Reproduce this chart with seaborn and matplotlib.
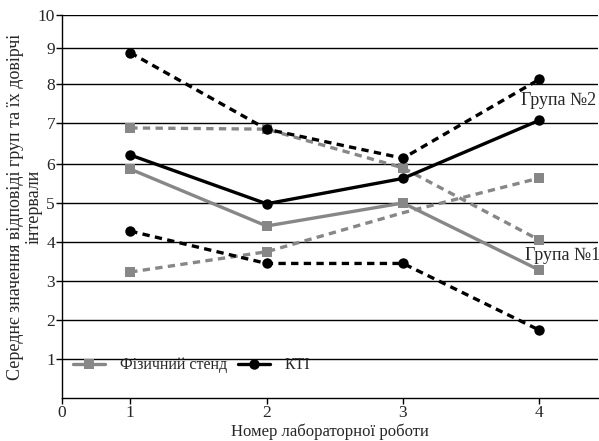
import numpy as np
import pandas as pd
import matplotlib
matplotlib.use("Agg")
import matplotlib.pyplot as plt
import seaborn as sns

labs = [1, 2, 3, 4]
phys_mean = [5.87, 4.41, 5.0, 3.28]
phys_upper = [6.88, 6.85, 5.9, 4.05]
phys_lower = [3.23, 3.75, 4.75, 5.64]
kti_mean = [6.22, 4.98, 5.63, 7.07]
kti_upper = [8.87, 6.85, 6.14, 8.13]
kti_lower = [4.28, 3.45, 3.45, 1.74]
y_ticks = [0, 1, 2, 3, 4, 5, 6, 7, 8, 9, 10]
x_tick_labels = ["0", "1", "2", "3", "4"]

sns.set_theme(style="white")
plt.rcParams["font.family"] = ["Liberation Serif", "DejaVu Serif"]

fig = plt.figure(figsize=(5.99, 4.41), dpi=100)
ax = fig.add_axes([62 / 599, 1 - 398 / 441, (598 - 62) / 599, (398 - 15) / 441])

# the reference y axis is slightly compressed near the top
pix = np.array([398, 359, 320, 281, 242, 203, 164, 123, 84, 48, 15], dtype=float)
pos = 398 - pix
vals = np.array(y_ticks, dtype=float)
def fwd(y):
    return np.interp(y, vals, pos)
def inv(p):
    return np.interp(p, pos, vals)
ax.set_yscale("function", functions=(fwd, inv))

GRAY = "#878787"
BLACK = "#000000"
lw = 2.4
ms = 7.5

sns.lineplot(x=labs, y=phys_mean, ax=ax, color=GRAY, lw=lw, marker="s",
             markersize=ms, markeredgewidth=0, label="Фізичний стенд", zorder=3)
sns.lineplot(x=labs, y=kti_mean, ax=ax, color=BLACK, lw=lw, marker="o",
             markersize=ms, markeredgewidth=0, label="КТІ", zorder=4)
for ys, mk, c, me in [(phys_upper, "s", GRAY, None), (phys_lower, "s", GRAY, [0, 1, 3]),
                      (kti_upper, "o", BLACK, None), (kti_lower, "o", BLACK, None)]:
    ax.plot(labs, ys, color=c, lw=lw, ls=(0, (2.2, 1.6)), marker=mk, markersize=ms,
            markeredgewidth=0, markevery=me, zorder=3)

ax.set_ylim(0, 10)
ax.set_xlim(0.5, 4.43)
ax.set_yticks(y_ticks[1:])
ax.set_yticklabels([str(v) for v in y_ticks[1:]], fontsize=12.5)
ax.set_xticks([0.5, 1, 2, 3, 4])
ax.set_xticklabels(x_tick_labels, fontsize=12.5)
ax.tick_params(axis="both", direction="out", length=4, width=1, color="black",
               left=True, bottom=True, pad=1)
for y in y_ticks[1:]:
    ax.axhline(y, color="black", lw=1, zorder=1)
for s in ["top", "right"]:
    ax.spines[s].set_visible(False)
for s in ["left", "bottom"]:
    ax.spines[s].set_color("black")
    ax.spines[s].set_linewidth(1)

ax.set_xlabel("Номер лабораторної роботи", fontsize=12, labelpad=2)
ax.set_ylabel("Середнє значення відповіді груп та їх довірчі\nінтервали", fontsize=13,
              linespacing=1.1)
ax.yaxis.set_label_coords(-0.036, 0.5)

ax.text(4.14, 7.58, "Група №2", fontsize=13, ha="center", va="center", zorder=5)
ax.text(4.17, 3.65, "Група №1", fontsize=13, ha="center", va="center", zorder=5)

leg = ax.legend(loc="lower left", bbox_to_anchor=(0.0, 0.035), ncol=2, frameon=False,
                fontsize=11.5, handlelength=2.0, handletextpad=0.9, columnspacing=0.7,
                borderaxespad=0.3)

fig.savefig("out.png", dpi=100)
